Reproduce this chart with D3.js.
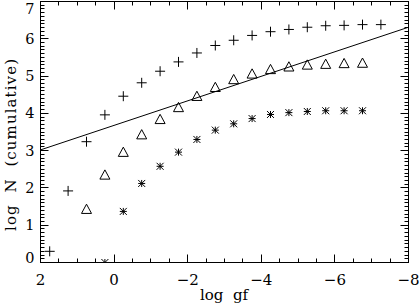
<!DOCTYPE html>
<html>
<head>
<meta charset="utf-8">
<script src="https://cdn.jsdelivr.net/npm/d3@7"></script>
<style>
  body { margin: 0; background: #fff; }
  svg text { font-family: "DejaVu Serif", serif; fill: #000; }
</style>
</head>
<body>
<script>
  // log gf bins (cumulative counts)
  var plusX = [1.75, 1.25, 0.75, 0.25, -0.25, -0.75, -1.25, -1.75, -2.25, -2.75, -3.25, -3.75, -4.25, -4.75, -5.25, -5.75, -6.25, -6.75, -7.25],
      plusY = [0.30, 1.92, 3.24, 3.96, 4.46, 4.82, 5.13, 5.38, 5.62, 5.82, 5.96, 6.09, 6.19, 6.25, 6.31, 6.35, 6.36, 6.38, 6.38];

  var triX = [0.75, 0.25, -0.25, -0.75, -1.25, -1.75, -2.25, -2.75, -3.25, -3.75, -4.25, -4.75, -5.25, -5.75, -6.25, -6.75],
      triY = [1.43, 2.35, 2.96, 3.43, 3.84, 4.16, 4.46, 4.70, 4.91, 5.06, 5.18, 5.25, 5.30, 5.32, 5.34, 5.35];

  var astX = [0.25, -0.25, -0.75, -1.25, -1.75, -2.25, -2.75, -3.25, -3.75, -4.25, -4.75, -5.25, -5.75, -6.25, -6.75],
      astY = [0.00, 1.37, 2.12, 2.58, 2.96, 3.30, 3.55, 3.72, 3.86, 3.97, 4.02, 4.05, 4.07, 4.07, 4.07];

  // straight reference line
  var lineX = [2, -8],
      lineY = [3.02, 6.31];

  var xTicks = [2, 0, -2, -4, -6, -8],
      yTicks = [0, 1, 2, 3, 4, 5, 6, 7];

  var W = 419, H = 307,
      pL = 40.5, pR = 408.5, pT = 1.5, pB = 262.5;

  var x = d3.scaleLinear().domain([2, -8]).range([pL, pR]),
      y = d3.scaleLinear().domain([0, 7]).range([pB, pT]);

  var svg = d3.select('body').append('svg')
    .attr('width', W).attr('height', H);

  svg.append('defs').append('clipPath').attr('id', 'plotclip')
    .append('rect')
    .attr('x', pL).attr('y', pT)
    .attr('width', pR - pL).attr('height', pB - pT);

  var fmt = function (d) { return d < 0 ? '\u2212' + Math.abs(d) : '' + d; };

  // axes, IDL style: ticks inward on all four sides
  var xMinor = d3.range(2, -8.01, -0.5),
      yMinor = d3.range(0, 7.001, 0.1);

  var axes = svg.append('g').attr('stroke', '#000').attr('stroke-width', 1).attr('fill', 'none');

  axes.append('rect')
    .attr('x', pL).attr('y', pT)
    .attr('width', pR - pL).attr('height', pB - pT);

  axes.selectAll('.xt').data(xMinor).enter().append('path')
    .attr('d', function (d) {
      var len = (Math.abs(d % 2) < 1e-6) ? 8 : 4, px = Math.round(x(d) - 0.5) + 0.5;
      return 'M' + px + ',' + pB + 'v' + (-len) + 'M' + px + ',' + pT + 'v' + len;
    });

  axes.selectAll('.yt').data(yMinor).enter().append('path')
    .attr('d', function (d) {
      var major = Math.abs(d - Math.round(d)) < 1e-6,
          len = major ? 8 : 4, py = Math.round(y(d) - 0.5) + 0.5;
      return 'M' + pL + ',' + py + 'h' + len + 'M' + pR + ',' + py + 'h' + (-len);
    });

  svg.selectAll('.xl').data(xTicks).enter().append('text')
    .attr('x', function (d) { return x(d); })
    .attr('y', pB + 22)
    .attr('text-anchor', 'middle')
    .style('font-size', '15px')
    .text(fmt);

  svg.selectAll('.yl').data(yTicks).enter().append('text')
    .attr('x', pL - 6)
    .attr('y', function (d) { return Math.max(Math.min(y(d) + 5, pB), 14); })
    .attr('text-anchor', 'end')
    .style('font-size', '14.5px')
    .text(fmt);

  svg.append('text')
    .attr('x', 224).attr('y', 300)
    .attr('text-anchor', 'middle')
    .style('font-size', '15px')
    .attr('xml:space', 'preserve')
    .text('log  gf');

  svg.append('text')
    .attr('transform', 'translate(16,145) rotate(-90)')
    .attr('text-anchor', 'middle')
    .style('font-size', '15px')
    .attr('textLength', 172)
    .attr('lengthAdjust', 'spacing')
    .attr('xml:space', 'preserve')
    .text('log  N  (cumulative)');

  var plot = svg.append('g').attr('clip-path', 'url(#plotclip)')
    .attr('stroke', '#000').attr('fill', 'none').attr('stroke-width', 1);

  plot.append('path')
    .datum(d3.zip(lineX, lineY))
    .attr('d', d3.line().x(function (d) { return x(d[0]); }).y(function (d) { return y(d[1]); }));

  // plus signs
  plot.selectAll('.plus').data(d3.zip(plusX, plusY)).enter().append('path')
    .attr('d', function (d) {
      var cx = x(d[0]), cy = y(d[1]), s = 5;
      return 'M' + (cx - s) + ',' + cy + 'h' + (2 * s) + 'M' + cx + ',' + (cy - s) + 'v' + (2 * s);
    });

  // triangles
  plot.selectAll('.tri').data(d3.zip(triX, triY)).enter().append('path')
    .attr('d', function (d) {
      var cx = x(d[0]), cy = y(d[1]), s = 5;
      return 'M' + (cx - s) + ',' + (cy + s * 0.85) + 'L' + cx + ',' + (cy - s) + 'L' + (cx + s) + ',' + (cy + s * 0.85) + 'Z';
    });

  // asterisks
  plot.selectAll('.ast').data(d3.zip(astX, astY)).enter().append('path')
    .attr('d', function (d) {
      var cx = x(d[0]), cy = y(d[1]), s = 3.5;
      return 'M' + (cx - s) + ',' + cy + 'h' + (2 * s) +
             'M' + cx + ',' + (cy - s) + 'v' + (2 * s) +
             'M' + (cx - s) + ',' + (cy - s) + 'L' + (cx + s) + ',' + (cy + s) +
             'M' + (cx - s) + ',' + (cy + s) + 'L' + (cx + s) + ',' + (cy - s);
    });
</script>
</body>
</html>
